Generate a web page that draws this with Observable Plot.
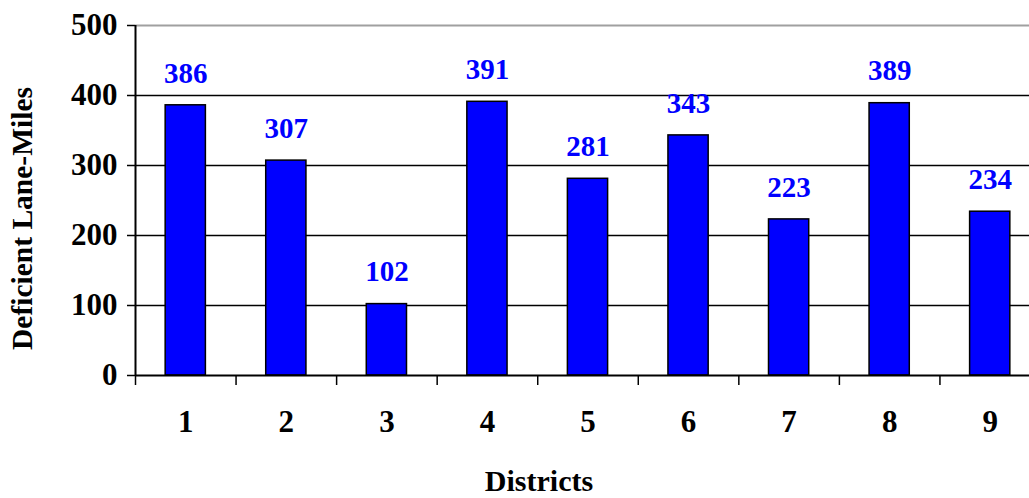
<!DOCTYPE html>
<html>
<head>
<meta charset="utf-8">
<script src="https://cdn.jsdelivr.net/npm/d3@7"></script>
<script src="https://cdn.jsdelivr.net/npm/@observablehq/plot@0.6"></script>
<style>
  html, body { margin: 0; padding: 0; background: white; overflow: hidden; }
</style>
</head>
<body>
<div id="chart"></div>
<script>
const districts = ["1", "2", "3", "4", "5", "6", "7", "8", "9"];
const laneMiles = [386, 307, 102, 391, 281, 343, 223, 389, 234];
const yTicks = [0, 100, 200, 300, 400, 500];
const gridLines = [100, 200, 300, 400];
const xTitle = "Districts";
const yTitle = "Deficient Lane-Miles";

const data = districts.map((d, i) => ({district: d, value: laneMiles[i]}));

const W = 1029, H = 498;
const left = 135, right = 1040;
const step = (right - left) / districts.length;
const font = "Liberation Serif, Times New Roman, serif";

const chart = Plot.plot({
  width: W,
  height: H,
  marginLeft: left,
  marginRight: 0,
  marginTop: 25,
  marginBottom: 123,
  style: {fontFamily: font, background: "white", overflow: "hidden"},
  x: {domain: districts, range: [left, right], paddingInner: 0.6, paddingOuter: 0.3, round: false, axis: null},
  y: {domain: [0, 500], axis: null},
  marks: [
    Plot.ruleY(gridLines, {stroke: "black", strokeWidth: 1.5}),
    Plot.ruleY([500], {stroke: "#a0a0a0", strokeWidth: 2}),
    Plot.barY(data, {x: "district", y: "value", fill: "#0000ff", stroke: "black", strokeWidth: 1.5}),
    // axes lines
    Plot.ruleY([0], {stroke: "black", strokeWidth: 2}),
    Plot.ruleX([districts[0]], {x: d => d, y1: 0, y2: 500, dx: -step / 2, stroke: "black", strokeWidth: 2}),
    // x ticks at band boundaries
    Plot.ruleX(districts, {x: d => d, y1: 0, y2: -14.3, dx: -step / 2, stroke: "black", strokeWidth: 1.5}),
    // y ticks
    Plot.ruleY(yTicks, {stroke: "black", strokeWidth: 1.5, insetLeft: -8, insetRight: W - left}),
    // y tick labels
    Plot.text(yTicks, {y: d => d, text: d => String(d), frameAnchor: "left", dx: -18, textAnchor: "end", lineAnchor: "middle",
      fontFamily: font, fontSize: 31, fontWeight: "bold", fill: "black"}),
    // x tick labels
    Plot.text(districts, {x: d => d, y: () => 0, text: d => d, dy: 47, lineAnchor: "middle",
      fontFamily: font, fontSize: 31, fontWeight: "bold", fill: "black"}),
    // value labels
    Plot.text(data, {x: "district", y: "value", text: d => String(d.value), dy: -32, lineAnchor: "middle",
      fontFamily: font, fontSize: 29, fontWeight: "bold", fill: "#0000ff"}),
    // titles
    Plot.text([xTitle], {text: d => d, frameAnchor: "bottom-left", dx: 538.5 - left, dy: 105.5,
      textAnchor: "middle", lineAnchor: "middle",
      fontFamily: font, fontSize: 30, fontWeight: "bold", fill: "black"}),
    Plot.text([yTitle], {text: d => d, frameAnchor: "left", rotate: -90, dx: 22 - left, dy: 18,
      textAnchor: "middle", lineAnchor: "middle",
      fontFamily: font, fontSize: 29.5, fontWeight: "bold", fill: "black"})
  ]
});
document.getElementById("chart").appendChild(chart);
</script>
</body>
</html>
